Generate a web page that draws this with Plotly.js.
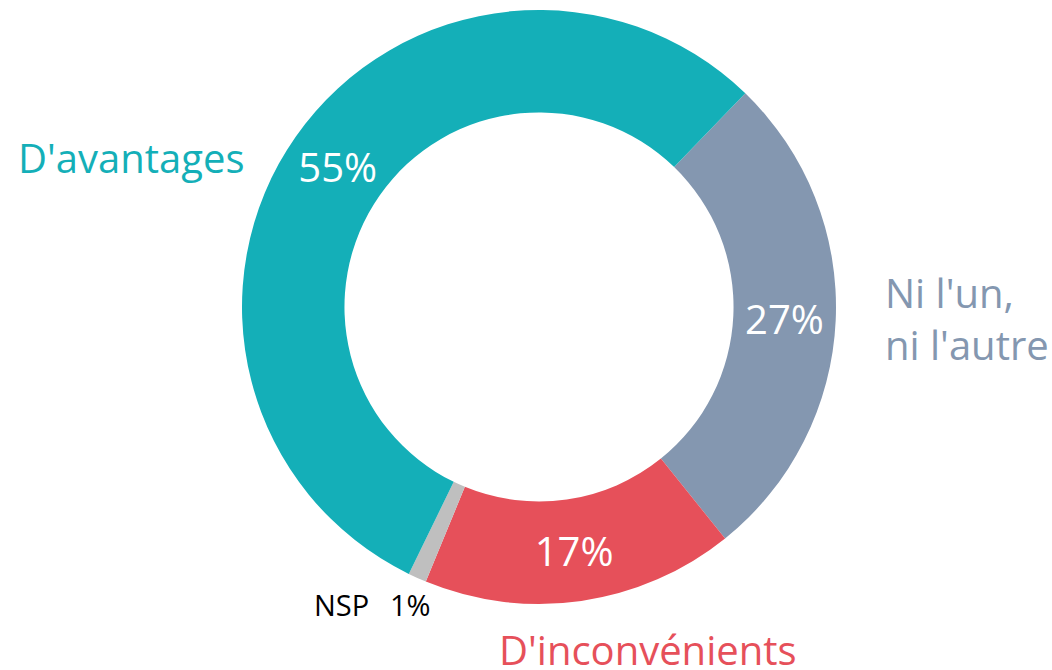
<!DOCTYPE html>
<html>
<head>
<meta charset="utf-8">
<script src="https://cdn.plot.ly/plotly-3.0.1.min.js"></script>
<style>html,body{margin:0;padding:0;background:#fff;}#chart{width:1052px;height:670px;}</style>
</head>
<body>
<div id="chart"></div>
<script>
// Data (clockwise from the top-right boundary)
const categories = ["Ni l'un, ni l'autre", "D'inconvénients", "NSP", "D'avantages"];
const values = [27, 17, 1, 55];
const colors = ["#8497B0", "#E6505A", "#BFBFBF", "#14AFB8"];
const insideText = values.map((v, i) => categories[i] === "NSP" ? "" : v + "%");

const FONT = "Open Sans, Noto Sans, sans-serif";

const trace = {
  type: "pie",
  labels: categories,
  values: values,
  text: insideText,
  textinfo: "text",
  textposition: "inside",
  insidetextorientation: "horizontal",
  insidetextfont: {family: FONT, size: 40, color: "#ffffff"},
  marker: {colors: colors, line: {width: 0}},
  hole: 0.655,
  sort: false,
  direction: "clockwise",
  rotation: 44,
  hoverinfo: "none",
  showlegend: false,
  domain: {x: [242/1052, 836/1052], y: [1 - 604/670, 1 - 10/670]}
};

const nspIdx = categories.indexOf("NSP");
const annotations = [
  {text: "D'avantages", x: 131/1052, y: 1 - 157/670, color: colors[3], size: 40, anchor: "center"},
  {text: "Ni l'un,<br>ni l'autre", x: 883/1052, y: 1 - 318/670, color: colors[0], size: 40, anchor: "left"},
  {text: "D'inconvénients", x: 648/1052, y: 1 - 649/670, color: colors[1], size: 40, anchor: "center"},
  {text: "NSP", x: 341/1052, y: 1 - 604/670, color: "#000000", size: 29, anchor: "center"},
  {text: values[nspIdx] + "%", x: 410/1052, y: 1 - 604/670, color: "#000000", size: 29, anchor: "center"}
].map(a => ({
  text: a.text, x: a.x, y: a.y, xref: "paper", yref: "paper",
  xanchor: a.anchor, yanchor: "middle", align: "left", showarrow: false,
  font: {family: FONT, size: a.size, color: a.color}
}));

const layout = {
  width: 1052, height: 670,
  margin: {l: 0, r: 0, t: 0, b: 0},
  paper_bgcolor: "#ffffff",
  plot_bgcolor: "#ffffff",
  annotations: annotations,
  font: {family: FONT}
};

Plotly.newPlot("chart", [trace], layout, {displayModeBar: false, staticPlot: true});
</script>
</body>
</html>
